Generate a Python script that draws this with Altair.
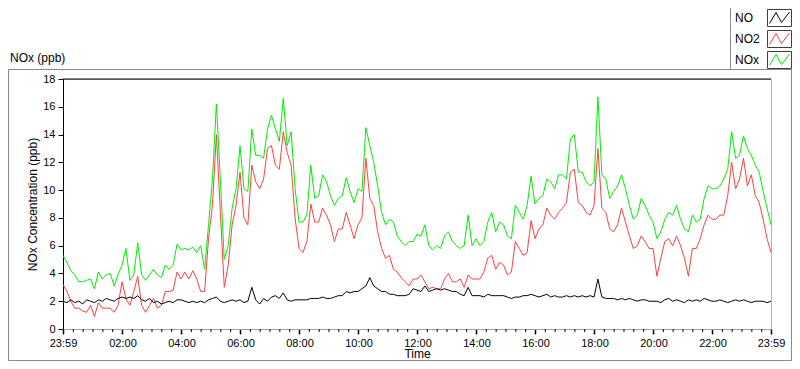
import altair as alt
import pandas as pd

# ---------------- data (8-minute steps from 23:59) ----------------
minutes = list(range(0, 1441, 8))

nox = [5.3, 4.8, 4.2, 3.9, 3.4, 3.4, 3.5, 3.6, 2.9, 4.1, 3.6, 3.9, 4.0, 3.1, 3.9, 4.6, 5.8, 3.5, 3.9, 6.2, 3.9, 3.5, 3.9, 4.3, 3.9, 3.7, 4.6, 4.3, 4.6, 6.1,
       5.7, 5.8, 5.7, 5.9, 5.5, 6.0, 4.3, 7.5, 10.8, 16.2, 10.8, 5.0, 6.0, 8.7, 10.1, 13.2, 10.1, 9.9, 14.4, 12.5, 12.5, 12.3, 14.4, 15.4, 14.4, 13.5, 16.6, 13.2, 14.2, 10.1,
       7.7, 7.7, 8.2, 11.8, 9.4, 9.6, 11.1, 10.6, 9.6, 8.9, 9.4, 9.6, 10.9, 9.9, 9.1, 10.1, 9.9, 14.5, 13.2, 12.0, 10.3, 8.4, 7.5, 7.9, 7.7, 6.7, 6.3, 6.0, 6.3, 6.3,
       6.8, 6.7, 7.5, 6.0, 5.7, 6.0, 5.8, 6.7, 7.0, 6.3, 6.0, 5.8, 6.0, 8.2, 6.0, 6.5, 6.0, 6.3, 7.7, 8.4, 7.0, 7.7, 7.5, 6.7, 6.5, 8.9, 8.4, 7.9, 8.9, 11.0,
       9.0, 9.4, 9.6, 10.8, 10.6, 10.1, 11.1, 11.1, 10.8, 13.7, 14.0, 11.3, 11.3, 10.6, 10.3, 10.6, 16.7, 11.1, 10.8, 9.4, 9.9, 10.3, 11.1, 10.1, 8.9, 7.9, 8.2, 9.4, 8.9, 8.2,
       7.7, 6.5, 7.0, 7.9, 8.4, 8.2, 8.9, 7.9, 7.2, 7.0, 8.2, 7.7, 7.9, 9.4, 10.3, 10.1, 10.1, 10.3, 10.8, 11.5, 14.2, 12.3, 12.5, 13.9, 13.0, 12.5, 11.8, 11.3, 9.9, 8.7, 7.5]

no2 = [3.2, 2.7, 2.0, 1.5, 1.5, 1.3, 1.2, 1.7, 0.9, 1.9, 1.5, 1.5, 1.5, 1.2, 1.7, 3.4, 2.2, 1.7, 2.7, 3.8, 1.7, 1.2, 1.7, 2.2, 1.5, 1.7, 2.7, 2.7, 2.8, 4.1,
       3.6, 4.1, 3.6, 4.2, 3.6, 2.7, 2.7, 6.5, 8.9, 14.0, 8.4, 3.0, 4.6, 7.5, 8.9, 11.3, 8.0, 7.5, 11.8, 10.6, 10.1, 10.8, 13.0, 13.2, 11.8, 11.5, 14.2, 12.7, 11.8, 8.0,
       5.8, 5.5, 6.3, 9.0, 7.7, 7.7, 8.7, 8.2, 7.5, 6.3, 7.2, 7.2, 8.4, 7.5, 6.5, 7.5, 8.0, 12.3, 9.4, 8.9, 7.0, 5.8, 5.1, 5.3, 4.3, 4.1, 3.7, 3.4, 3.1, 3.6,
       3.6, 3.9, 3.4, 2.9, 3.0, 2.9, 2.9, 3.6, 4.0, 3.4, 3.4, 3.6, 3.0, 3.9, 3.6, 3.6, 3.6, 4.1, 5.1, 5.3, 4.3, 4.8, 4.6, 3.9, 4.1, 6.3, 5.8, 5.3, 5.5, 7.8,
       6.5, 7.2, 7.5, 8.7, 8.2, 7.9, 8.4, 8.7, 9.1, 11.3, 11.5, 9.1, 8.9, 8.4, 8.2, 8.9, 13.0, 8.7, 8.4, 7.2, 7.0, 7.5, 8.7, 7.7, 6.7, 5.8, 6.0, 6.7, 6.3, 5.8,
       5.8, 3.8, 5.1, 6.3, 6.5, 6.0, 6.7, 6.0, 5.1, 3.8, 5.8, 5.8, 6.5, 7.5, 8.2, 7.9, 7.9, 8.2, 8.2, 9.6, 12.0, 10.1, 10.8, 12.3, 10.3, 11.1, 9.6, 9.1, 7.9, 6.5, 5.5]

no = [2.0, 1.9, 2.1, 1.9, 2.0, 1.8, 2.1, 2.0, 1.9, 2.1, 2.0, 2.2, 2.1, 2.0, 2.2, 2.3, 2.2, 2.3, 2.2, 2.4, 2.1, 2.0, 2.2, 1.9, 2.0, 1.8, 1.9, 2.0, 1.9, 2.1,
      2.1, 2.0, 1.9, 2.0, 1.9, 2.0, 1.9, 2.1, 2.2, 2.3, 2.0, 1.9, 2.0, 2.1, 2.0, 2.1, 1.9, 2.0, 3.0, 2.1, 1.8, 2.2, 2.0, 2.3, 2.4, 2.2, 2.6, 2.1, 2.0, 2.1,
      2.1, 2.1, 2.1, 2.2, 2.2, 2.2, 2.3, 2.2, 2.2, 2.3, 2.4, 2.4, 2.7, 2.6, 2.7, 2.7, 2.9, 3.1, 3.7, 3.1, 2.9, 2.7, 2.7, 2.5, 2.5, 2.4, 2.4, 2.4, 2.5, 2.9,
      2.8, 2.7, 3.1, 2.7, 2.8, 2.9, 2.8, 2.9, 2.8, 2.7, 2.7, 2.5, 2.4, 3.0, 2.4, 2.4, 2.4, 2.3, 2.5, 2.4, 2.4, 2.4, 2.4, 2.3, 2.2, 2.3, 2.3, 2.4, 2.4, 2.5,
      2.4, 2.3, 2.4, 2.5, 2.3, 2.4, 2.3, 2.3, 2.4, 2.3, 2.4, 2.3, 2.4, 2.3, 2.4, 2.3, 3.6, 2.3, 2.2, 2.2, 2.2, 2.1, 2.2, 2.1, 2.2, 2.1, 2.0, 2.1, 2.1, 2.0,
      2.0, 2.0, 1.9, 2.1, 2.2, 2.0, 2.1, 2.0, 1.9, 2.1, 2.0, 2.1, 2.0, 2.2, 2.1, 2.0, 2.0, 2.1, 2.0, 1.9, 2.0, 2.1, 2.0, 2.1, 2.0, 1.9, 2.0, 2.0, 2.0, 1.9, 2.0]

series_names = ["NO", "NO2", "NOx"]
series_colors = ["#000000", "#FF4040", "#00F000"]
series_values = [no, no2, nox]

major_ticks = [0] + [121 + 120 * k for k in range(11)] + [1440]
minor_ticks = [1 + 20 * k for k in range(1, 72) if (1 + 20 * k - 121) % 120 != 0]
y_ticks = list(range(0, 19, 2))

FONT = "Liberation Sans"
W, H = 708, 250

rows = []
for name, vals in zip(series_names, series_values):
    for m, v in zip(minutes, vals):
        rows.append({"Minutes": m, "Value": v, "Series": name})
df = pd.DataFrame(rows)

x_enc = alt.X(
    "Minutes:Q",
    scale=alt.Scale(domain=[0, 1440], nice=False, zero=False),
    axis=alt.Axis(
        values=major_ticks,
        labelExpr="datum.value < 1 || datum.value > 1439 ? '23:59' : timeFormat(datetime(2000, 0, 1, 23, 59 + datum.value), '%H:%M')",
        tickSize=5, tickWidth=1.5, tickColor="#000000",
        domainColor="#A0A0A0", grid=False,
        labelFont=FONT, labelFontSize=11, labelPadding=3, labelColor="#000000",
        labelFlush=False, labelOverlap=False,
        title="Time", titleFont=FONT, titleFontSize=12, titleFontWeight="normal",
        titleColor="#000000", titleY=24.5, titleBaseline="middle",
    ),
)
y_enc = alt.Y(
    "Value:Q",
    scale=alt.Scale(domain=[0, 18], nice=False, zero=False),
    axis=alt.Axis(
        values=y_ticks, tickSize=5, tickColor="#000000", domainColor="#000000",
        grid=False, labelFont=FONT, labelFontSize=11, labelPadding=3, labelColor="#000000",
        title="NOx Concentration (ppb)", titleFont=FONT, titleFontSize=12,
        titleFontWeight="normal", titleColor="#000000", titleX=-31, titleY=H / 2,
        titleAngle=270, titleBaseline="middle", titleAlign="center",
    ),
)

base = alt.Chart(df)
lines = []
for name, color in zip(series_names[::-1], series_colors[::-1]):
    lines.append(
        base.transform_filter(alt.datum.Series == name)
        .mark_line(color=color, strokeWidth=1)
        .encode(x=x_enc, y=y_enc)
    )

one = pd.DataFrame({"k": [0]})

# minor x ticks
minor = alt.Chart(pd.DataFrame({"Minutes": minor_ticks})).mark_rule(
    color="#000000", strokeWidth=1
).encode(x=alt.X("Minutes:Q"), y=alt.value(H), y2=alt.value(H + 3))

# plot frame: top dark edge
top_edge = alt.Chart(one).mark_rule(color="#000000", strokeWidth=1).encode(
    x=alt.value(0), x2=alt.value(W), y=alt.value(0)
)

# outer panel frame
outer = alt.Chart(one).mark_rect(fill=None, stroke="#8C8C8C", strokeWidth=1).encode(
    x=alt.value(-54.5), x2=alt.value(728.5), y=alt.value(-9.5), y2=alt.value(281.5)
)

# panel caption
caption = alt.Chart(one).mark_text(
    text="NOx (ppb)", align="left", baseline="middle", font=FONT, fontSize=12, color="#000000"
).encode(x=alt.value(-53), y=alt.value(-21))

# legend
legend_layers = [
    alt.Chart(one).mark_rect(fill="#FFFFFF", stroke="#8C8C8C", strokeWidth=1).encode(
        x=alt.value(667.5), x2=alt.value(735), y=alt.value(-75), y2=alt.value(-9.5)
    )
]
zig = "M-1,0.55L-0.35,-0.55L0.2,0.45L1,-0.6"
for i, (name, color) in enumerate(zip(series_names, series_colors)):
    cy = -61 + 21 * i
    legend_layers.append(
        alt.Chart(one).mark_text(
            text=name, align="left", baseline="middle", font=FONT, fontSize=12, color="#000000"
        ).encode(x=alt.value(672), y=alt.value(cy))
    )
    legend_layers.append(
        alt.Chart(one).mark_rect(fill="#FFFFFF", stroke="#404040", strokeWidth=1).encode(
            x=alt.value(704.5), x2=alt.value(728.5), y=alt.value(cy - 8.5), y2=alt.value(cy + 8.5)
        )
    )
    legend_layers.append(
        alt.Chart(one).mark_point(
            shape=zig, filled=False, stroke=color, strokeWidth=1, size=400, opacity=1
        ).encode(x=alt.value(716.5), y=alt.value(cy))
    )

chart = alt.layer(
    outer, caption, *legend_layers, top_edge, minor, *lines
).properties(
    width=W, height=H,
    autosize=alt.AutoSizeParams(type="none"),
    padding={"left": 55, "top": 71, "right": 21, "bottom": 32},
).configure(background="#FFFFFF").configure_view(stroke="#B4B4B4", strokeWidth=1)

chart.save("out.html", embed_options={"renderer": "svg", "actions": False})
